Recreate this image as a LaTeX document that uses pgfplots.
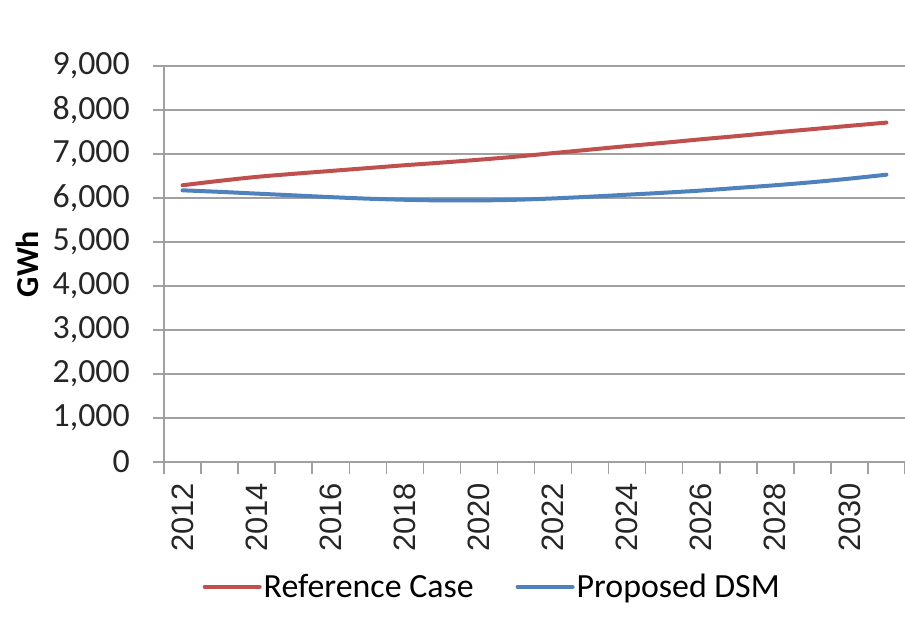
\documentclass[border=0pt]{standalone}
\usepackage{pgfplots}
\pgfplotsset{compat=1.18}
\usepackage{fontspec}
\setmainfont{Carlito}
\newfontfamily\arialf{Liberation Sans}
\definecolor{refred}{HTML}{C0504D}
\definecolor{dsmblue}{HTML}{4F81BD}
\definecolor{gridgray}{HTML}{A0A0A0}
\pgfplotstableread{
x year ref dsm
0 2012 6290 6175
1 2013 6390 6140
2 2014 6480 6100
3 2015 6550 6060
4 2016 6615 6020
5 2017 6680 5985
6 2018 6745 5960
7 2019 6805 5945
8 2020 6870 5945
9 2021 6940 5960
10 2022 7020 5990
11 2023 7100 6030
12 2024 7180 6075
13 2025 7255 6120
14 2026 7335 6170
15 2027 7410 6230
16 2028 7490 6290
17 2029 7565 6360
18 2030 7640 6440
19 2031 7714 6530
}\datatable
\begin{document}
\begin{tikzpicture}
\begin{axis}[
  at={(0,0)}, anchor=south west,
  scale only axis,
  width=741bp, height=396bp,
  xmin=-0.5, xmax=19.5,
  ymin=0, ymax=9000,
  ytick={0,1000,...,9000},
  /pgf/number format/assume math mode=true,
  yticklabel style={font=\fontsize{34}{37}\selectfont, color=black!85, inner sep=0pt, anchor=east, xshift=-23bp},
  y tick label style={/pgf/number format/1000 sep={,}},
  scaled y ticks=false,
  xtick={0,2,...,18},
  xticklabels={2012,2014,2016,2018,2020,2022,2024,2026,2028,2030},
  xticklabel style={font=\arialf\fontsize{31}{34}\selectfont, color=black!85, inner sep=0pt, yshift=-10bp, rotate=90, anchor=east},
  minor xtick={-0.5,0.5,...,19.5},
  tick align=outside,
  major tick length=11bp,
  minor tick length=12bp,
  every major x tick/.append style={draw=none},
  tick style={gridgray, line width=1.5bp},
  ymajorgrids,
  grid style={gridgray, line width=1.8bp},
  axis y line*=left, axis x line*=bottom,
  axis line style={gridgray, line width=1.5bp, -},
  ylabel={\fontsize{32}{34}\selectfont\bfseries GWh},
  every axis y label/.style={at={(axis description cs:-0.1849,0.5)}, anchor=center, rotate=90},
  clip=false,
  legend style={at={(0.443,-0.315)}, anchor=center, draw=none, fill=none,
    font=\fontsize{34}{37}\selectfont, legend columns=2,
    /tikz/every even column/.append style={column sep=40bp}},
  legend cell align=left,
  legend image code/.code={\draw[#1, line width=4bp, line cap=round] (0bp,0bp) -- (55bp,0bp);},
]
\addplot[refred, line width=4bp, smooth, line cap=round] table[x=x, y=ref] {\datatable};
\addlegendentry{Reference Case}
\addplot[dsmblue, line width=4bp, smooth, line cap=round] table[x=x, y=dsm] {\datatable};
\addlegendentry{Proposed DSM}
\end{axis}
\pgfresetboundingbox
\path (-164bp,-165bp) rectangle (741bp,462bp);
\end{tikzpicture}
\end{document}
